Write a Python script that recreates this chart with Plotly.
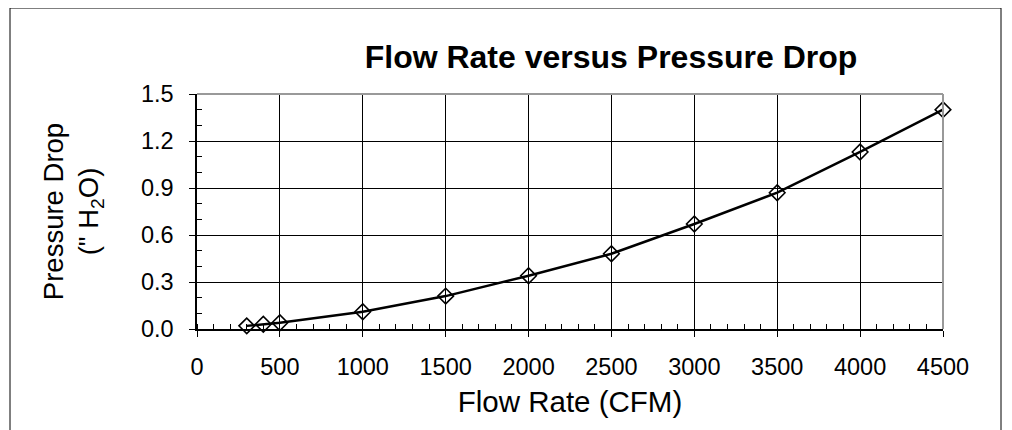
import plotly.graph_objects as go

flow_cfm = [300, 400, 500, 1000, 1500, 2000, 2500, 3000, 3500, 4000, 4500]
pressure_drop = [0.02, 0.03, 0.04, 0.11, 0.21, 0.34, 0.48, 0.67, 0.87, 1.13, 1.40]

x_ticks = [0, 500, 1000, 1500, 2000, 2500, 3000, 3500, 4000, 4500]
y_ticks = [0.0, 0.3, 0.6, 0.9, 1.2, 1.5]
y_tick_labels = ["0.0", "0.3", "0.6", "0.9", "1.2", "1.5"]

FONT = "Liberation Sans, Arial, sans-serif"

# page body has an 8px margin, so the figure is sized/placed to compensate
W, H = 1004, 422
L, T, PW, PH = 189, 86, 746, 235

fig = go.Figure()
fig.add_trace(go.Scatter(
    x=flow_cfm, y=pressure_drop, mode="lines+markers",
    line=dict(color="black", width=2.5),
    marker=dict(symbol="diamond-open", size=12, color="black", line=dict(width=1.6, color="black")),
    showlegend=False, cliponaxis=False,
))

fig.update_layout(
    width=W, height=H,
    margin=dict(l=L, r=W - L - PW, t=T, b=H - T - PH, autoexpand=False),
    paper_bgcolor="white", plot_bgcolor="white",
    font=dict(family=FONT, color="black", size=23),
    title=dict(text="<b>Flow Rate versus Pressure Drop</b>", x=603 / W, xanchor="center",
               y=1 - 49 / H, yanchor="middle", font=dict(size=32, family=FONT)),
    xaxis=dict(
        range=[0, 4500], tickvals=x_ticks, ticktext=[str(v) for v in x_ticks],
        showgrid=True, gridcolor="black", gridwidth=1,
        showline=True, linecolor="black", linewidth=1.5,
        ticks="outside", ticklen=6, tickcolor="black",
        minor=dict(dtick=100, ticks="inside", ticklen=5, tickcolor="black", showgrid=False),
        tickfont=dict(size=23.5), zeroline=False, ticklabelstandoff=10,
        title=dict(text="Flow Rate (CFM)", font=dict(size=29.5), standoff=12),
    ),
    yaxis=dict(
        range=[0, 1.5], tickvals=y_ticks, ticktext=y_tick_labels,
        showgrid=True, gridcolor="black", gridwidth=1,
        showline=True, linecolor="black", linewidth=1.5,
        ticks="outside", ticklen=6, tickcolor="black",
        minor=dict(dtick=0.1, ticks="inside", ticklen=5, tickcolor="black", showgrid=False),
        tickfont=dict(size=23.5), zeroline=False, ticklabelstandoff=11,
        title=dict(text="Pressure Drop<br>(\" H<sub>2</sub>O)", font=dict(size=27.5), standoff=34),
    ),
    shapes=[
        dict(type="line", xref="paper", yref="paper", x0=0, x1=1, y0=1, y1=1,
             line=dict(color="#999999", width=2)),
        dict(type="line", xref="paper", yref="paper", x0=1, x1=1, y0=0, y1=1,
             line=dict(color="#999999", width=2)),
        dict(type="rect", xref="paper", yref="paper",
             x0=(2 - L) / PW, x1=(993 - L) / PW,
             y0=-0.6, y1=(T + PH - 0) / PH,
             line=dict(color="black", width=1), layer="below"),
    ],
)

fig.write_html("out.html")
